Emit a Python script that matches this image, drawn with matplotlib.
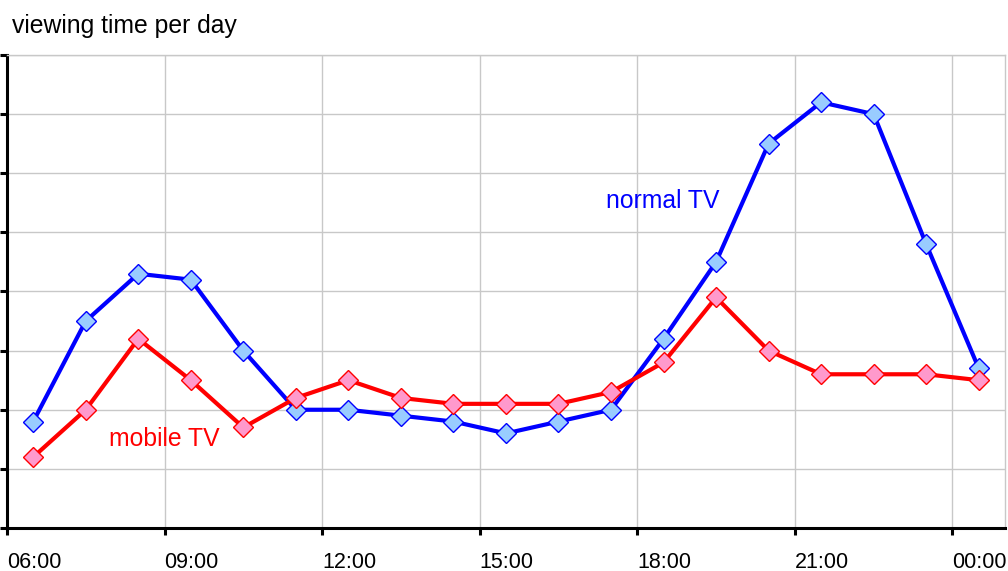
import matplotlib.pyplot as plt
from matplotlib.ticker import FixedLocator

plt.rcParams['font.family'] = ['Liberation Sans', 'DejaVu Sans']

# hours of the day (points sit at the half hour), 24.5 = 00:30
hours = [6.5, 7.5, 8.5, 9.5, 10.5, 11.5, 12.5, 13.5, 14.5, 15.5,
         16.5, 17.5, 18.5, 19.5, 20.5, 21.5, 22.5, 23.5, 24.5]
normal_tv = [1.8, 3.5, 4.3, 4.2, 3.0, 2.0, 2.0, 1.9, 1.8, 1.6,
             1.8, 2.0, 3.2, 4.5, 6.5, 7.2, 7.0, 4.8, 2.7]
mobile_tv = [1.2, 2.0, 3.2, 2.5, 1.7, 2.2, 2.5, 2.2, 2.1, 2.1,
             2.1, 2.3, 2.8, 3.9, 3.0, 2.6, 2.6, 2.6, 2.5]
tick_hours = [6, 9, 12, 15, 18, 21, 24]
tick_labels = ['06:00', '09:00', '12:00', '15:00', '18:00', '21:00', '00:00']

fig = plt.figure(figsize=(10.08, 5.71), dpi=100)
ax = fig.add_axes([0.0069, 0.0753, 0.9901, 0.8284])

# Draw the two series
ax.plot(hours, normal_tv, '-', color='#0000ff', lw=3, marker='D', ms=10.5,
        mfc='#99ccff', mec='#0000ff', mew=1, zorder=3)
ax.plot(hours, mobile_tv, '-', color='#ff0000', lw=3, marker='D', ms=10.5,
        mfc='#ff99cc', mec='#ff0000', mew=1, zorder=4)

ax.set_xlim(6, 25)
ax.set_ylim(0, 8)
ax.xaxis.set_major_locator(FixedLocator(tick_hours))
ax.set_xticklabels(tick_labels, fontsize=15.5, ha='left')
ax.set_yticks(range(0, 9))
ax.set_yticklabels([])
ax.grid(True, color='#c8c8c8', lw=1)
ax.set_axisbelow(True)

for side in ['left', 'bottom']:
    ax.spines[side].set_linewidth(2.2)
    ax.spines[side].set_color('black')
for side in ['top', 'right']:
    ax.spines[side].set_color('#c8c8c8')
    ax.spines[side].set_linewidth(1)
ax.tick_params(axis='both', length=5, width=2.2, color='black')
ax.tick_params(axis='x', pad=12)

ax.text(17.41, 5.53, 'normal TV', color='#0000ff', fontsize=17.8, va='center')
ax.text(7.94, 1.51, 'mobile TV', color='#ff0000', fontsize=17.8, va='center')
fig.text(0.012, 0.9545, 'viewing time per day', fontsize=17.8, va='center')

fig.savefig('out.png', dpi=100)
